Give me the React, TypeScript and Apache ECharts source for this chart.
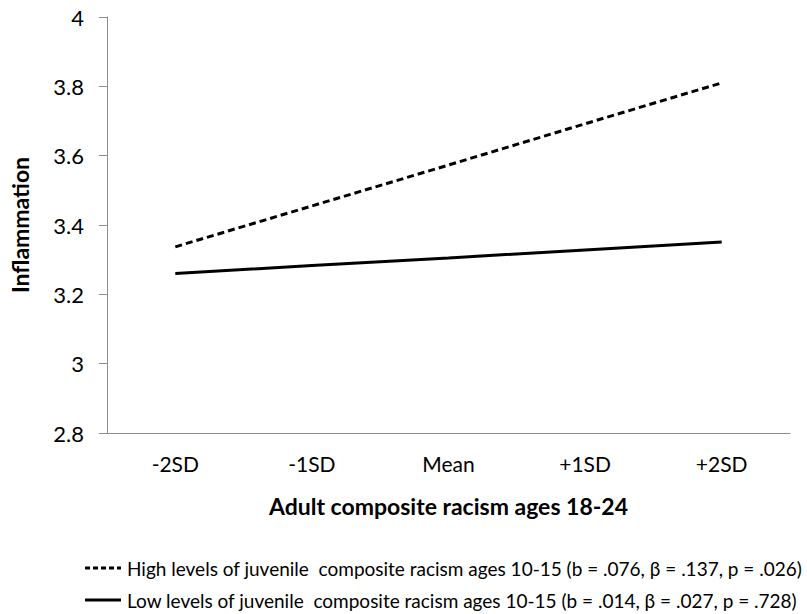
import React, { useEffect, useRef } from "react";
import * as echarts from "echarts";

const categories = ["-2SD", "-1SD", "Mean", "+1SD", "+2SD"];
const highValues = [3.337, 3.455, 3.573, 3.692, 3.81];
const lowValues = [3.26, 3.283, 3.305, 3.328, 3.351];
const highName = "High levels of juvenile  composite racism ages 10-15 (b = .076, β = .137, p = .026)";
const lowName = "Low levels of juvenile  composite racism ages 10-15 (b = .014, β = .027, p = .728)";
const yTitle = "Inflammation";
const xTitle = "Adult composite racism ages 18-24";

const FONT = "Lato";

export default function App() {
  const ref = useRef<HTMLDivElement>(null);
  useEffect(() => {
    if (!ref.current) return;
    const chart = echarts.init(ref.current, null, { renderer: "svg" });
    const legendFont = { fontFamily: FONT, fontSize: 19, fill: "#000" };
    chart.setOption({
      animation: false,
      textStyle: { fontFamily: FONT },
      grid: { left: 105, right: 17, top: 17, bottom: 181, containLabel: false },
      legend: { show: false },
      graphic: [
        {
          type: "line",
          shape: { x1: 85, y1: 568, x2: 121, y2: 568 },
          style: { stroke: "#000", lineWidth: 3, lineDash: [5, 3] },
        },
        {
          type: "text",
          x: 127,
          y: 568,
          style: { ...legendFont, text: highName, verticalAlign: "middle", align: "left" },
        },
        {
          type: "line",
          shape: { x1: 85, y1: 600, x2: 121, y2: 600 },
          style: { stroke: "#000", lineWidth: 3 },
        },
        {
          type: "text",
          x: 127,
          y: 600,
          style: { ...legendFont, text: lowName, verticalAlign: "middle", align: "left" },
        },
      ],
      xAxis: {
        type: "category",
        data: categories,
        boundaryGap: true,
        axisLine: { lineStyle: { color: "#8c8c8c", width: 1 } },
        axisTick: { show: false },
        axisLabel: { color: "#000", fontSize: 21, fontFamily: FONT, margin: 20 },
        name: xTitle,
        nameLocation: "middle",
        nameGap: 61,
        nameTextStyle: { color: "#000", fontSize: 23, fontWeight: "bold", fontFamily: FONT },
      },
      yAxis: {
        type: "value",
        min: 2.8,
        max: 4,
        interval: 0.2,
        splitLine: { show: false },
        axisLine: { show: true, lineStyle: { color: "#8c8c8c", width: 1 } },
        axisTick: { show: true, length: 8, lineStyle: { color: "#8c8c8c" } },
        axisLabel: {
          color: "#000",
          fontSize: 22,
          fontFamily: FONT,
          margin: 23,
          formatter: (v: number) => String(Math.round(v * 10) / 10),
        },
        name: yTitle,
        nameLocation: "middle",
        nameGap: 76,
        nameTextStyle: { color: "#000", fontSize: 23, fontWeight: "bold", fontFamily: FONT },
      },
      series: [
        {
          name: highName,
          type: "line",
          data: highValues,
          symbol: "none",
          lineStyle: { color: "#000", width: 3, type: [7, 4] },
          itemStyle: { color: "#000" },
        },
        {
          name: lowName,
          type: "line",
          data: lowValues,
          symbol: "none",
          lineStyle: { color: "#000", width: 3, type: "solid" },
          itemStyle: { color: "#000" },
        },
      ],
    });
    return () => chart.dispose();
  }, []);
  return <div ref={ref} style={{ width: 807, height: 614, position: "absolute", left: 0, top: 0 }} />;
}
